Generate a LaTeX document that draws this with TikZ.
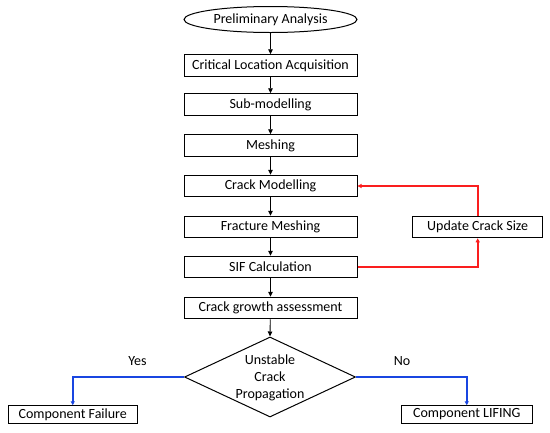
\documentclass[tikz,border=0pt]{standalone}
\usepackage{fontspec}
\setmainfont{Carlito}
\usetikzlibrary{shapes.geometric,arrows.meta}
\definecolor{loopred}{RGB}{250,30,30}
\definecolor{decblue}{RGB}{25,70,225}
\begin{document}
\begin{tikzpicture}[x=1pt,y=-1pt,
  every node/.style={font=\fontsize{14}{16}\selectfont, inner sep=0pt},
  box/.style={draw, line width=1pt, minimum width=173pt, minimum height=21.5pt},
  sidebox/.style={draw, line width=1pt, minimum width=130pt, minimum height=21.5pt},
  endbox/.style={draw, line width=1pt, minimum height=17.5pt},
  arr/.style={line width=0.9pt, -{Triangle[length=5pt,width=4.5pt]}},
  redarr/.style={line width=1.6pt, draw=loopred, -{Triangle[length=4pt,width=4pt,fill=loopred]}},
  bluearr/.style={line width=1.5pt, draw=decblue, -{Triangle[length=4pt,width=4pt,fill=decblue]}}]
\useasboundingbox (0,0) rectangle (550,432);
\node[ellipse, draw, line width=1pt, minimum width=173pt, minimum height=26pt] (pa) at (270.5,19.5) {Preliminary Analysis};
\node[box] (cla) at (270.5,65.5) {Critical Location Acquisition};
\node[box] (sub) at (270.5,104.5) {Sub-modelling};
\node[box] (mesh) at (270.5,145.5) {Meshing};
\node[box] (cm) at (270.5,186) {Crack Modelling};
\node[box] (fm) at (270.5,227) {Fracture Meshing};
\node[box] (sif) at (270.5,267) {SIF Calculation};
\node[box] (cga) at (270.5,308) {Crack growth assessment};
\node[sidebox] (ucs) at (477.7,227) {Update Crack Size};
\node[diamond, draw, line width=1pt, minimum width=171pt, minimum height=80pt, aspect=2.14] (dec) at (270,377) {};
\node[align=center, font=\fontsize{14}{16.8}\selectfont] (dectext) at (270,378) {Unstable\\Crack\\Propagation};
\node[endbox, minimum width=129.5pt] (cf) at (72.75,414.5) {Component Failure};
\node[endbox, minimum width=130.5pt] (cl) at (466.75,414.5) {Component LIFING};
\node (yes) at (137.5,361) {Yes};
\node (no) at (402,361) {No};
\coordinate (corner) at (sif.east -| ucs.south);
\draw[arr] (pa) -- (cla);
\draw[arr] (cla) -- (sub);
\draw[arr] (sub) -- (mesh);
\draw[arr] (mesh) -- (cm);
\draw[arr] (cm) -- (fm);
\draw[arr] (fm) -- (sif);
\draw[arr] (sif) -- (cga);
\draw[arr] (cga) -- (dec.north);
\draw[redarr] (sif.east) -- (corner) -- (ucs.south);
\draw[redarr] (ucs.north) |- (cm.east);
\draw[bluearr] (dec.west) -| (cf.north);
\draw[bluearr] (dec.east) -| (cl.north);
\end{tikzpicture}
\end{document}
